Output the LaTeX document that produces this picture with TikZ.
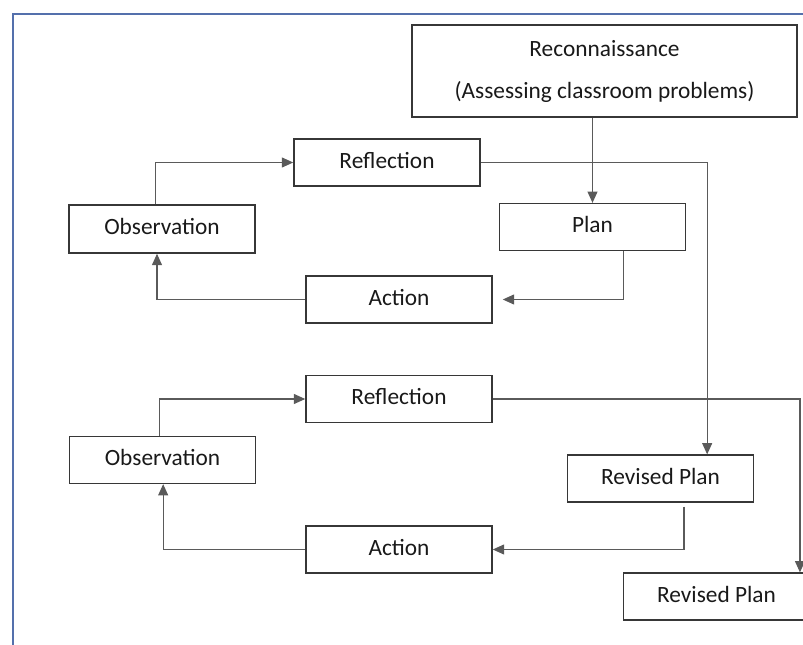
\documentclass[tikz,border=0pt]{standalone}
\usepackage{fontspec}
\setmainfont{Carlito}
\usepackage{xcolor}
\usetikzlibrary{arrows.meta}
\definecolor{framecol}{RGB}{84,112,172}
\definecolor{boxcol}{RGB}{55,55,55}
\definecolor{linecol}{RGB}{90,90,90}

\tikzset{
    box/.style={draw=boxcol, line width=1.2pt, minimum width=139.5pt, minimum height=35pt,
        inner sep=0pt, text depth=3.8pt, text=black!90, font=\fontsize{17.5}{20}\selectfont},
    link/.style={draw=linecol, line width=0.8pt},
    >={Triangle[length=8.5pt,width=7.5pt]}
}

\begin{document}
\begin{tikzpicture}[x=0.75pt,y=-0.75pt]
    \clip (0,0) rectangle (803,645);
    \draw[framecol, line width=1.6pt] (13,645) -- (13,14) -- (805,14);
    % first cycle
    \node[box, minimum width=288.75pt, minimum height=69pt, align=center, text depth=0pt,
        font=\fontsize{17.5}{31.5}\selectfont] (recon) at (604.5,71)
        {\raisebox{2pt}{Reconnaissance}\\\raisebox{2pt}{(Assessing classroom problems)}};
    \node[box] (refla) at (387,162.5) {Reflection};
    \node[box] (plan) at (592.5,227) {Plan};
    \node[box, minimum height=36pt] (obsa) at (162,229) {Observation};
    \node[box] (acta) at (399,299.5) {Action};
    % second cycle
    \node[box] (reflb) at (399,399) {Reflection};
    \node[box] (obsb) at (162.5,460) {Observation};
    \node[box] (reva) at (660.5,478.5) {Revised Plan};
    \node[box] (actb) at (399,549.5) {Action};
    \node[box] (revb) at (716.5,596.5) {Revised Plan};
    % connectors
    \draw[link,->] (plan.north |- recon.south) -- (plan.north);
    \draw[link,->] ([xshift=23pt]plan.south) |- ([xshift=7.5pt]acta.east);
    \draw[link,->] (acta.west) -| ([xshift=-3.75pt]obsa.south);
    \draw[link,->] ([xshift=-5pt]obsa.north) |- (refla.west);
    \draw[link,->] (refla.east) -| ([xshift=35pt]reva.north);
    \draw[link,->] ([xshift=17.6pt,yshift=-3pt]reva.south) |- (actb.east);
    \draw[link,->] (actb.west) -| ([xshift=0.5pt]obsb.south);
    \draw[link,->] ([xshift=-2.5pt]obsb.north) |- (reflb.west);
    \draw[link,->] (reflb.east) -| ([xshift=62.6pt]revb.north);
\end{tikzpicture}
\end{document}
